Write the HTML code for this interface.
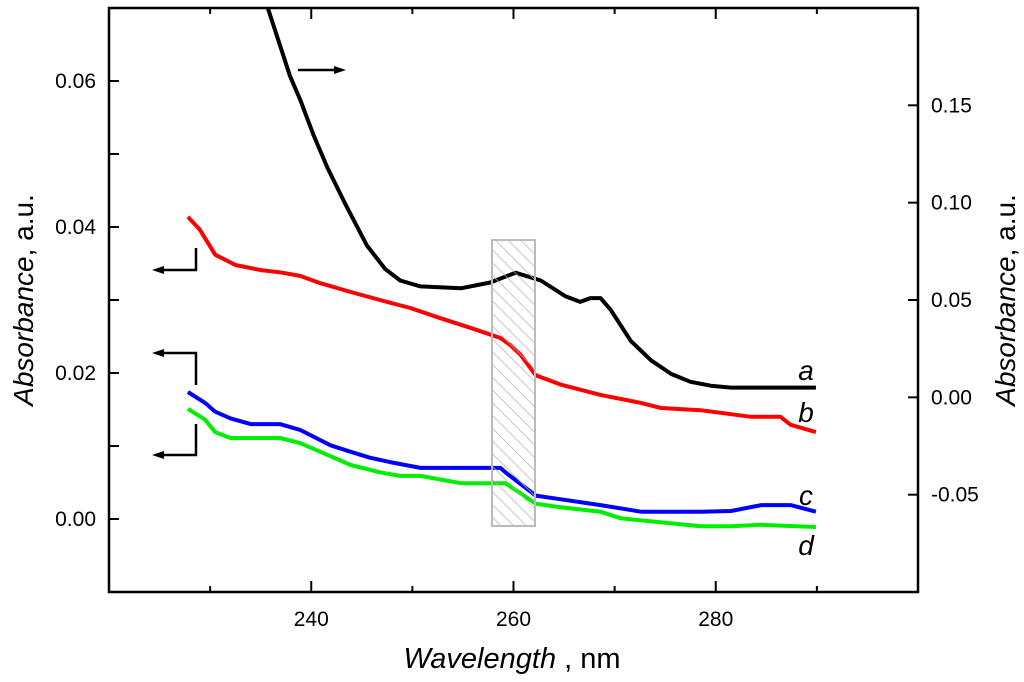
<!DOCTYPE html>
<html><head><meta charset="utf-8"><style>
body{margin:0;background:#fff}
svg{display:block;font-family:"Liberation Sans",Arial,sans-serif}
</style></head><body>
<svg id="chart" width="1024" height="682" viewBox="0 0 1024 682">
<defs><pattern id="hatch" patternUnits="userSpaceOnUse" width="9" height="9" patternTransform="rotate(-45)"><line x1="0" y1="0" x2="0" y2="9" stroke="#b0b0b0" stroke-width="1.6"/></pattern></defs>
<g id="plot"></g>
</svg>
<script>
const xTicks=[240,260,280];
const yLeftTicks=["0.00","0.02","0.04","0.06"];
const yRightTicks=["-0.05","0.00","0.05","0.10","0.15"];
const aWl=[235.7,236.9,237.9,238.9,240.2,241.6,243.4,245.5,247.3,248.8,250.8,254.8,257.7,260.2,262.7,265.1,266.6,267.6,268.6,269.6,271.6,273.6,275.6,277.5,279.5,281.5,289.9];
const aVal=[0.200,0.181,0.165,0.153,0.135,0.118,0.099,0.078,0.066,0.060,0.057,0.056,0.059,0.064,0.060,0.052,0.049,0.051,0.051,0.045,0.029,0.019,0.012,0.008,0.006,0.005,0.005];
const bWl=[227.8,229.0,230.5,232.5,235.0,236.9,238.9,240.9,243.9,246.8,249.8,252.8,255.7,258.7,259.7,260.7,262.2,264.7,268.6,272.6,274.6,278.5,283.5,286.4,287.4,289.9];
const bVal=[0.0414,0.0396,0.0362,0.0348,0.0341,0.0338,0.0333,0.0323,0.0311,0.0300,0.0289,0.0275,0.0262,0.0248,0.0238,0.0225,0.0197,0.0184,0.0170,0.0159,0.0152,0.0149,0.0140,0.0140,0.0129,0.0119];
const cWl=[227.8,229.5,230.5,232.0,234.0,236.9,238.9,241.9,243.9,245.8,247.8,250.8,258.7,259.2,262.2,264.7,268.6,272.6,278.5,281.5,284.5,287.4,289.9];
const cVal=[0.0174,0.0159,0.0147,0.0138,0.0130,0.0130,0.0122,0.0101,0.0092,0.0084,0.0078,0.0070,0.0070,0.0064,0.0032,0.0027,0.0019,0.0010,0.0010,0.0011,0.0019,0.0019,0.0010];
const dWl=[227.8,229.5,230.5,232.0,236.9,238.9,241.9,243.9,246.8,248.8,250.8,254.8,259.2,262.2,264.7,268.6,270.6,278.5,281.5,284.5,289.9];
const dVal=[0.0151,0.0136,0.0119,0.0111,0.0111,0.0104,0.0086,0.0074,0.0064,0.0059,0.0059,0.0049,0.0049,0.0021,0.0016,0.0010,0.0001,-0.0010,-0.0010,-0.0008,-0.0011];

const L=109,R=918,T=8,B=592;
const X=v=>L+(v-220)/80*(R-L);
const YL=v=>B-(v+0.01)/0.08*(B-T);
const YR=v=>B-(v+0.1)/0.3*(B-T);
const NS="http://www.w3.org/2000/svg";
const g=document.getElementById('plot');
function mk(t,a,p){const e=document.createElementNS(NS,t);for(const k in a)e.setAttribute(k,a[k]);(p||g).appendChild(e);return e;}

for(let v=230;v<=290;v+=10){const maj=v%20===0;
 let e=mk('line',{x1:X(v),x2:X(v),y1:B,y2:B-(maj?11:6),stroke:'#000','stroke-width':2});
 
 e=mk('line',{x1:X(v),x2:X(v),y1:T,y2:T+(maj?11:6),stroke:'#000','stroke-width':2});
 }
xTicks.forEach(v=>{const t=mk('text',{x:X(v),y:626,'text-anchor':'middle','font-size':21});t.textContent=v;
 });
for(let i=0;i<=7;i++){const v=-0.01+i*0.01;const y=YL(v);
 const e=mk('line',{x1:L,x2:L+10,y1:y,y2:y,stroke:'#000','stroke-width':2});
 }
yLeftTicks.forEach(s=>{const t=mk('text',{x:96,y:YL(parseFloat(s))+7,'text-anchor':'end','font-size':21});t.textContent=s;
 });
for(let i=0;i<=6;i++){const v=-0.1+i*0.05;const y=YR(v);
 const e=mk('line',{x1:R,x2:R-10,y1:y,y2:y,stroke:'#000','stroke-width':2});
 }
yRightTicks.forEach(s=>{const t=mk('text',{x:931,y:YR(parseFloat(s))+7,'text-anchor':'start','font-size':21});t.textContent=s;
 });

function series(wl,val,Y,col,name){const d=wl.map((w,i)=>(i?'L':'M')+X(w).toFixed(1)+','+Y(val[i]).toFixed(1)).join('');
 const p=mk('path',{d:d,fill:'none',stroke:col,'stroke-width':4,'stroke-linejoin':'round'});
 }
series(aWl,aVal,YR,'#000','series-a');
series(bWl,bVal,YL,'#ff0000','series-b');
series(cWl,cVal,YL,'#0000ff','series-c');
series(dWl,dVal,YL,'#00ee00','series-d');

let hb=mk('rect',{x:492,y:240,width:43,height:286,fill:'url(#hatch)',stroke:'#bbb','stroke-width':2,'fill-opacity':0.9});


let fr=mk('rect',{x:L,y:T,width:R-L,height:B-T,fill:'none',stroke:'#000','stroke-width':2.5});


function arrow(pts,hx,hy,dir,name){const p=mk('polyline',{points:pts,fill:'none',stroke:'#000','stroke-width':2.5});
 
 const h=dir>0?`${hx},${hy} ${hx-12},${hy-4} ${hx-12},${hy+4}`:`${hx},${hy} ${hx+12},${hy-4} ${hx+12},${hy+4}`;
 const a=mk('polygon',{points:h,fill:'#000'});}
arrow('298,70 336,70',346,70,1,'arrow-right-axis');
arrow('196,248 196,270 162,270',152,270,-1,'arrow-left-b');
arrow('196,385 196,353 162,353',152,353,-1,'arrow-left-c');
arrow('196,424 196,455 162,455',152,455,-1,'arrow-left-d');

[['a',380],['b',422],['c',505],['d',555]].forEach(([s,y])=>{const t=mk('text',{x:806,y:y,'text-anchor':'middle','font-size':28,'font-style':'italic'});t.textContent=s;
 });

let xt=mk('text',{x:512,y:668,'text-anchor':'middle','font-size':29});
xt.innerHTML='<tspan font-style="italic">Wavelength</tspan> ,  nm';

let yl=mk('text',{x:0,y:0,'text-anchor':'middle','font-size':28,transform:'translate(33,300) rotate(-90)'});
yl.innerHTML='<tspan font-style="italic">Absorbance</tspan>,  a.u.';

let yr=mk('text',{x:0,y:0,'text-anchor':'middle','font-size':28,transform:'translate(1015,300) rotate(-90)'});
yr.innerHTML='<tspan font-style="italic">Absorbance</tspan>,  a.u.';

</script>
</body></html>
